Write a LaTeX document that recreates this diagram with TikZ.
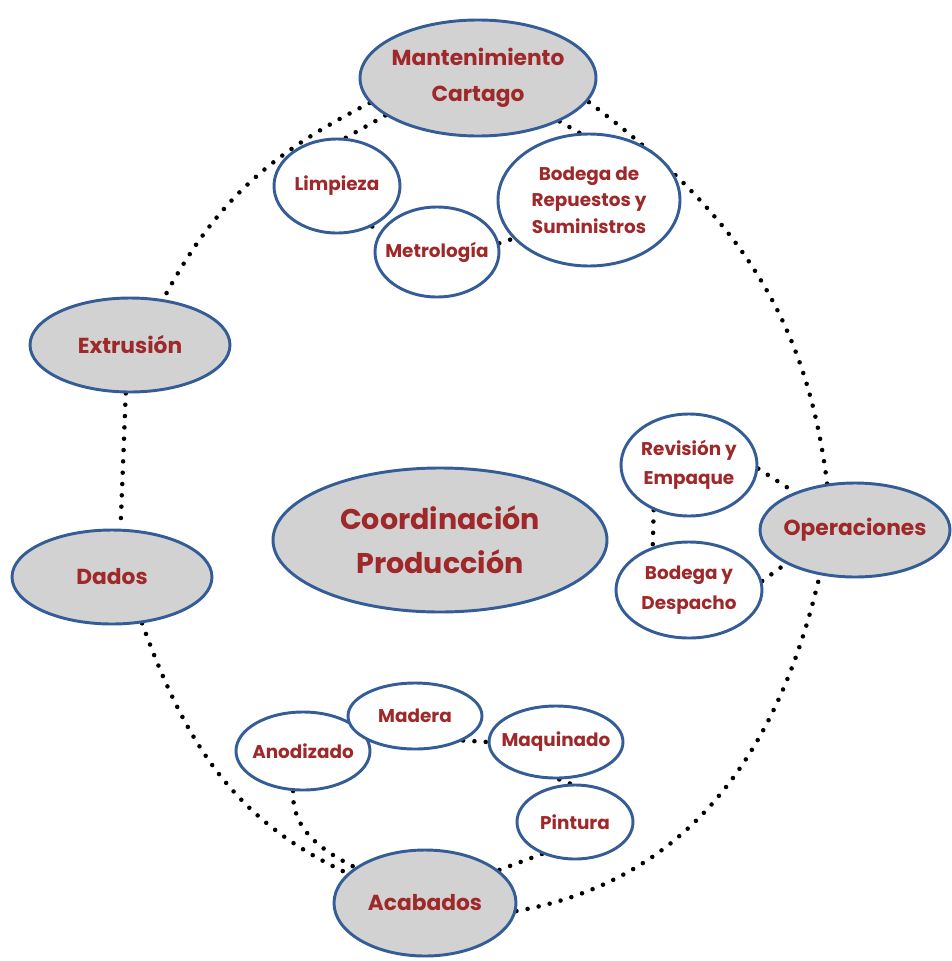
\documentclass[tikz,border=0pt]{standalone}
\usepackage{fontspec}
\setmainfont{Poppins}
\usetikzlibrary{shapes.geometric,backgrounds}
\definecolor{rimblue}{RGB}{52,92,150}
\definecolor{hubgray}{RGB}{210,210,210}
\definecolor{labelred}{RGB}{158,40,42}
\tikzset{
  unit/.style={ellipse, draw=rimblue, line width=2.2pt, inner xsep=-20pt, inner ysep=-12pt,
    text=labelred, align=center, font=\bfseries\fontsize{13.8}{20}\selectfont},
  hub/.style={unit, fill=hubgray, font=\bfseries\fontsize{16.3}{27}\selectfont},
  sub/.style={unit, fill=white},
  dots/.style={line width=3.4pt, line cap=round, dash pattern=on 0pt off 8.5pt, black}
}
\begin{document}
\begin{tikzpicture}[x=0.75pt, y=-0.75pt]
\useasboundingbox (0,0) rectangle (951,961);

% main departments
\node[hub, minimum width=177pt, minimum height=87pt] (mant) at (478,78) {Mantenimiento\\Cartago};
\node[hub, minimum width=150pt, minimum height=70.5pt] (extr) at (130,345) {Extrusión};
\node[hub, minimum width=150pt, minimum height=70.5pt] (dados) at (112,577) {Dados};
\node[hub, minimum width=250.5pt, minimum height=108pt,
      font=\bfseries\fontsize{21.4}{33}\selectfont] (coord) at (440,540) {Coordinación\\Producción};
\node[hub, minimum width=142.5pt, minimum height=70.5pt] (oper) at (855,530) {Operaciones};
\node[hub, minimum width=136.5pt, minimum height=79.5pt] (acab) at (425,903) {Acabados};

% sections under maintenance
\node[sub, minimum width=94.5pt, minimum height=70.5pt] (limp) at (337,186) {Limpieza};
\node[sub, minimum width=93pt, minimum height=67.5pt] (metro) at (437,252) {Metrología};
\node[sub, minimum width=136.5pt, minimum height=99pt] (brep) at (589,200) {Bodega de\\Repuestos y\\Suministros};

% sections under operations
\node[sub, minimum width=102pt, minimum height=76.5pt,
      font=\bfseries\fontsize{13.8}{22}\selectfont] (revi) at (689,465) {Revisión y\\Empaque};
\node[sub, minimum width=109.5pt, minimum height=72pt,
      font=\bfseries\fontsize{13.8}{22}\selectfont] (bdes) at (689,590) {Bodega y\\Despacho};

% sections under finishing
\node[sub, minimum width=100.5pt, minimum height=58.5pt] (anod) at (303,751) {Anodizado};
\node[sub, minimum width=100.5pt, minimum height=49.5pt] (made) at (415,716) {Madera};
\node[sub, minimum width=100.5pt, minimum height=54pt] (maqu) at (556,742) {Maquinado};
\node[sub, minimum width=87pt, minimum height=55.5pt] (pint) at (575,822) {Pintura};

\begin{scope}[on background layer]
  % outer ring
  \draw[dots] (mant.193) to[out=207, in=62] (extr.54);
  \draw[dots] (extr.265) -- (dados.80);
  \draw[dots] (dados.303) to[out=290, in=155] (acab.159);
  \draw[dots] (acab.355) to[out=10, in=257] (oper.232);
  \draw[dots] (oper.121) to[out=97, in=323] (mant.348);
  % maintenance links
  \draw[dots] (mant.202) -- (limp.80);
  \draw[dots] (mant.332) -- (brep.98);
  \draw[dots] (limp.311) -- (metro.160);
  \draw[dots] (metro.8) -- (brep.207);
  % operations links
  \draw[dots] (revi.357) -- (oper.148);
  \draw[dots] (revi.232) -- (bdes.130);
  \draw[dots] (bdes.7) -- (oper.206);
  % finishing links
  \draw[dots] (anod.256) to[out=268, in=153] (acab.153);
  \draw[dots] (made.333) -- (maqu.180);
  \draw[dots] (maqu.275) -- (pint.97);
  \draw[dots] (pint.224) -- (acab.24);
\end{scope}
\end{tikzpicture}
\end{document}
